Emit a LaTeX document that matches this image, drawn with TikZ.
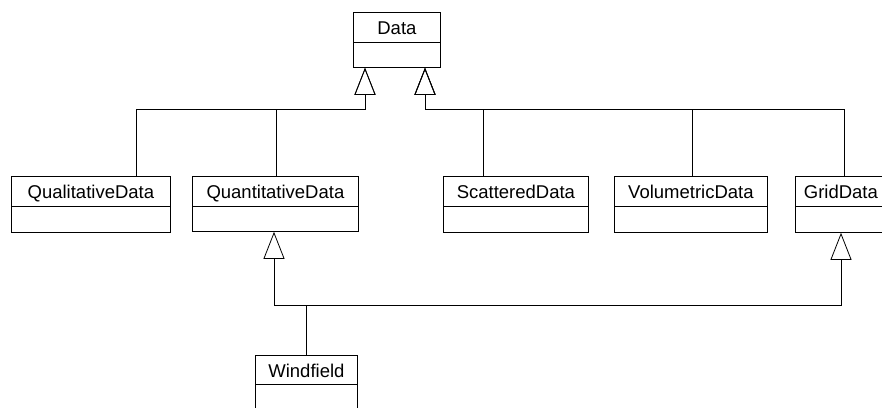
\documentclass[tikz,border=0pt]{standalone}
\usepackage{fontspec}
\setmainfont{Liberation Sans}
\usetikzlibrary{arrows.meta}
\tikzset{
  x=1pt, y=-1pt,
  title/.style={draw, line width=0.8pt, rectangle, inner sep=0pt, anchor=north west, text height=15pt, text depth=0pt, font=\fontsize{18.5}{18.5}\selectfont},
  compart/.style={draw, line width=0.8pt, rectangle, inner sep=0pt, anchor=north west},
  gen/.style={line width=0.8pt, -{Triangle[open,length=27pt,width=21pt,line width=0.8pt]}},
}
% \mycls{name}{x1}{x2}{ytop}{ydiv}{ybot}{text}
\newcommand{\mycls}[7]{%
  \node[title, minimum width={#3-#2}, minimum height={#5-#4}] (#1) at (#2,#4) {#7};
  \node[compart, minimum width={#3-#2}, minimum height={#6-#5}] (#1b) at (#2,#5) {};
}
\begin{document}
\begin{tikzpicture}
\useasboundingbox (0,0) rectangle (882,407);
\clip (0,0) rectangle (882,407);
\mycls{data}{353}{440}{12}{42}{67}{Data}
\mycls{qual}{11}{170}{176}{206}{232}{QualitativeData}
\mycls{quant}{192}{358}{176}{206}{231}{QuantitativeData}
\mycls{scat}{443}{588}{176}{206}{232}{ScatteredData}
\mycls{vol}{614}{767}{176}{206}{232}{VolumetricData}
\mycls{grid}{795}{886}{176}{206}{232}{GridData}
\mycls{wind}{255}{357}{355}{384}{440}{Windfield}
% generalization to Data
\coordinate (jl) at (365,109);
\coordinate (jr) at (425,109);
\draw[gen] (qual.north -| 136,0) |- (jl) -- (jl |- datab.south);
\draw[gen] (quant.north -| 276,0) |- (jl) -- (jl |- datab.south);
\draw[gen] (scat.north -| 483,0) |- (jr) -- (jr |- datab.south);
\draw[gen] (vol.north -| 692,0) |- (jr) -- (jr |- datab.south);
\draw[gen] (grid.north -| 844,0) |- (jr) -- (jr |- datab.south);
% Windfield generalizations
\coordinate (wj) at (306,305);
\coordinate (wl) at (274,305);
\coordinate (wr) at (841,305);
\draw[line width=0.8pt] (wind.north -| wj) -- (wj);
\draw[gen] (wj) -- (wl) -- (wl |- quantb.south);
\draw[gen] (wj) -- (wr) -- (wr |- gridb.south);
\end{tikzpicture}
\end{document}
